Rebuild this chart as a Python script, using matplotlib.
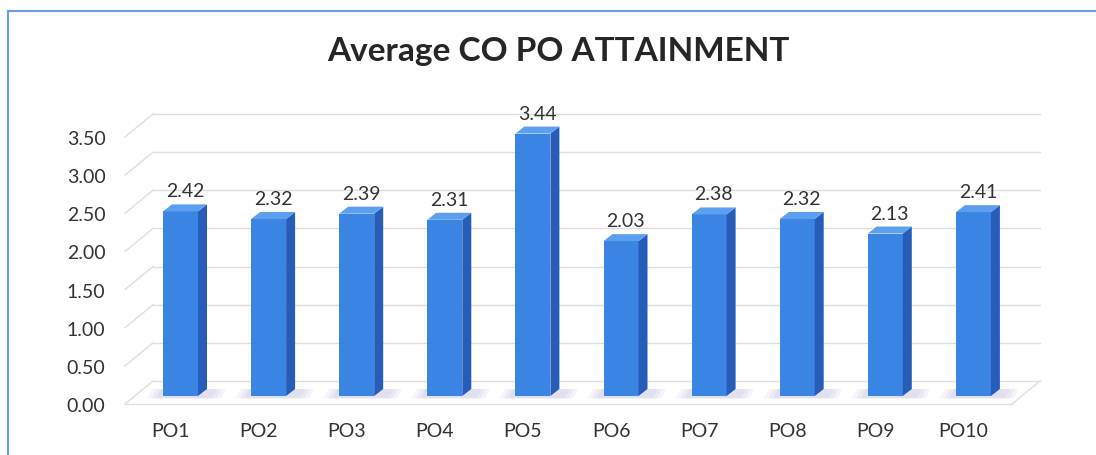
import numpy as np
import matplotlib
matplotlib.use("Agg")
import matplotlib.pyplot as plt
from matplotlib.patches import Polygon
from matplotlib.lines import Line2D

# data
categories = ["PO1", "PO2", "PO3", "PO4", "PO5", "PO6", "PO7", "PO8", "PO9", "PO10"]
values = [2.42, 2.32, 2.39, 2.31, 3.44, 2.03, 2.38, 2.32, 2.13, 2.41]
yticks = [0.0, 0.5, 1.0, 1.5, 2.0, 2.5, 3.0, 3.5]
title = "Average CO PO ATTAINMENT"

FONT = ["Lato", "DejaVu Sans"]
plt.rcParams["font.family"] = FONT

W, H = 1096, 456
FRONT = "#3a84e4"
SIDE = "#275cb8"
TOP = "#5c9ff0"
GRID = "#dedede"
TXT = "#333333"

# layout in pixels
AX_L, AX_R, AX_T, AX_B = 125, 1040, 138, 405
X0, STEP = 180.5, 88.1          # pixel centre of first bar, spacing


def px_rect(l, t, r, b):
    return [l / W, 1 - b / H, (r - l) / W, (b - t) / H]


fig = plt.figure(figsize=(W / 100, H / 100), dpi=100)
fig.patch.set_facecolor("white")
ax = fig.add_axes(px_rect(AX_L, AX_T, AX_R, AX_B))
xl = (AX_L - X0) / STEP
xr = (AX_R - X0) / STEP
ax.set_xlim(xl, xr)
ax.set_ylim(0, 3.5)
for s in ax.spines.values():
    s.set_visible(False)

ppx = STEP                      # pixels per x unit
ppy = (AX_B - AX_T) / 3.5       # pixels per y unit

# 3d depth offsets
bw = 35 / ppx
ddx, ddy = 9 / ppx, 7 / ppy
base = 8 / ppy
gdx, gdy = 28 / ppx, 23 / ppy

# back wall grid + left side wall diagonals
for t in yticks:
    ax.plot([xl, xl + gdx], [t, t + gdy], color=GRID, lw=1, clip_on=False, zorder=1)
    ax.plot([xl + gdx, xr], [t + gdy, t + gdy], color=GRID, lw=1, clip_on=False, zorder=1)
# floor front edge
ax.plot([xl, xr - gdx], [0, 0], color=GRID, lw=1, clip_on=False, zorder=1)
ax.plot([xr - gdx, xr], [0, gdy], color=GRID, lw=1, clip_on=False, zorder=1)

x = np.arange(len(categories))

# soft floor shadows under the bars (a few stacked faint layers)
for xi in x:
    for k, a in enumerate([0.10, 0.10, 0.12]):
        grow = (2 - k) * 0.05
        sh = Polygon([(xi - bw / 2 - 0.08 - grow, base * 0.7), (xi + bw / 2 + 0.16 + grow, base * 0.7),
                      (xi + bw / 2 + 0.22 + grow, base + ddy), (xi - bw / 2 - 0.02 - grow, base + ddy)],
                     closed=True, facecolor="#9a9ad0", alpha=a, edgecolor="none",
                     zorder=2, clip_on=False)
        ax.add_patch(sh)

ax.bar(x, values, width=bw, bottom=base, color=FRONT, zorder=3, clip_on=False)

for xi, v in zip(x, values):
    r = xi + bw / 2
    l = xi - bw / 2
    side = Polygon([(r, base), (r + ddx, base + ddy), (r + ddx, base + v + ddy), (r, base + v)],
                   closed=True, facecolor=SIDE, edgecolor="none", zorder=3, clip_on=False)
    top = Polygon([(l, base + v), (r, base + v), (r + ddx, base + v + ddy), (l + ddx, base + v + ddy)],
                  closed=True, facecolor=TOP, edgecolor="none", zorder=4, clip_on=False)
    ax.add_patch(side)
    ax.add_patch(top)
    ax.annotate(f"{v:.2f}", xy=(xi + ddx / 2, base + v + ddy), xytext=(0, 5),
                textcoords="offset pixels", ha="center", va="bottom",
                fontsize=14, color=TXT, annotation_clip=False)

ax.set_yticks(yticks)
ax.set_yticklabels([f"{t:.2f}" for t in yticks])
ax.set_xticks(x - 10 / ppx)
ax.set_xticklabels(categories)
ax.tick_params(axis="y", length=0, pad=14, labelsize=14, labelcolor=TXT)
ax.tick_params(axis="x", length=0, pad=13, labelsize=14, labelcolor=TXT)

fig.text(558 / W, 1 - 52 / H, title, ha="center", va="center",
         fontsize=24, fontweight="bold", color="#262626")

# chart frame
fig.add_artist(Line2D([8 / W, 1], [1 - 12 / H, 1 - 12 / H], color="#6a9de0", lw=1.5))
fig.add_artist(Line2D([8 / W, 8 / W], [0, 1 - 12 / H], color="#6a9de0", lw=1.5))

fig.savefig("out.png", dpi=100, facecolor="white")
